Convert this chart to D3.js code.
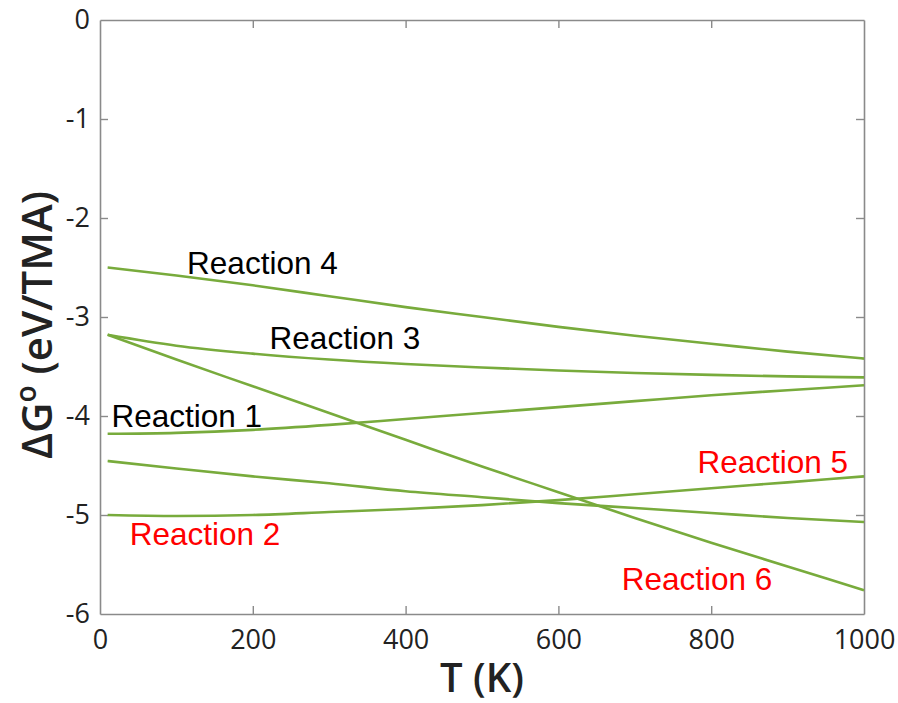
<!DOCTYPE html>
<html>
<head>
<meta charset="utf-8">
<script src="https://cdn.jsdelivr.net/npm/d3@7/dist/d3.min.js"></script>
<style>
  html, body { margin: 0; padding: 0; background: #fff; }
  svg { display: block; }
</style>
</head>
<body>
<svg id="chart" width="898" height="703"></svg>
<script>
// Temperature grid (K)
const temperatures = [10, 100, 200, 300, 400, 500, 600, 700, 800, 900, 1000];

// Standard Gibbs free energy change per TMA (eV) for each reaction
const reaction1 = [-4.18, -4.17, -4.14, -4.09, -4.03, -3.97, -3.91, -3.85, -3.79, -3.74, -3.69];
const reaction2 = [-4.455, -4.53, -4.61, -4.68, -4.76, -4.82, -4.88, -4.93, -4.98, -5.03, -5.07];
const reaction3 = [-3.18, -3.29, -3.37, -3.43, -3.475, -3.51, -3.54, -3.565, -3.585, -3.60, -3.61];
const reaction4 = [-2.50, -2.58, -2.68, -2.79, -2.90, -3.00, -3.10, -3.19, -3.27, -3.35, -3.42];
const reaction5 = [-5.00, -5.01, -5.00, -4.97, -4.94, -4.90, -4.85, -4.79, -4.73, -4.67, -4.61];
const reaction6 = [-3.18, -3.43, -3.70, -3.97, -4.24, -4.51, -4.77, -5.03, -5.28, -5.52, -5.76];

const seriesList = [reaction1, reaction2, reaction3, reaction4, reaction5, reaction6];

// Axis ticks
const xTicks = [0, 200, 400, 600, 800, 1000];
const yTicks = [0, -1, -2, -3, -4, -5, -6];

// Curve labels
const labelNames = ["Reaction 4", "Reaction 3", "Reaction 1", "Reaction 5", "Reaction 2", "Reaction 6"];
const labelColors = ["#000000", "#000000", "#000000", "#ff0000", "#ff0000", "#ff0000"];

(function draw() {
  const svg = d3.select("#chart");
  const margin = { left: 100, top: 20, right: 34, bottom: 89 };
  const W = 898, H = 703;
  const x = d3.scaleLinear().domain([0, 1000]).range([margin.left, W - margin.right]);
  const y = d3.scaleLinear().domain([-6, 0]).range([H - margin.bottom, margin.top]);

  const axisColor = "#8a8a8a";
  const tickFont = "'Open Sans', 'DejaVu Sans', sans-serif";

  // Axes with inward ticks on all four sides
  const axBottom = svg.append("g").attr("transform", `translate(0,${y(-6)})`)
    .call(d3.axisBottom(x).tickValues(xTicks).tickSizeInner(-8).tickSizeOuter(0).tickPadding(16)
      .tickFormat(d3.format("d")));
  const axTop = svg.append("g").attr("transform", `translate(0,${y(0)})`)
    .call(d3.axisTop(x).tickValues(xTicks).tickSizeInner(-8).tickSizeOuter(0).tickFormat(""));
  const axLeft = svg.append("g").attr("transform", `translate(${x(0)},0)`)
    .call(d3.axisLeft(y).tickValues(yTicks).tickSizeInner(-8).tickSizeOuter(0).tickPadding(10)
      .tickFormat(d => d === 0 ? "0" : "-" + Math.abs(d)));
  const axRight = svg.append("g").attr("transform", `translate(${x(1000)},0)`)
    .call(d3.axisRight(y).tickValues(yTicks).tickSizeInner(-8).tickSizeOuter(0).tickFormat(""));

  [axBottom, axTop, axLeft, axRight].forEach(g => {
    g.select(".domain").attr("stroke", axisColor).attr("stroke-width", 1.6);
    g.selectAll(".tick line").attr("stroke", axisColor).attr("stroke-width", 1.4);
    g.selectAll(".tick text").attr("fill", "#222").style("font-family", tickFont).style("font-size", "27px");
  });
  // Ticks at the ends coincide with the frame; hide them
  axBottom.selectAll(".tick").filter(d => d === 0 || d === 1000).select("line").remove();
  axTop.selectAll(".tick").filter(d => d === 0 || d === 1000).select("line").remove();
  axLeft.selectAll(".tick").filter(d => d === 0 || d === -6).select("line").remove();
  axRight.selectAll(".tick").filter(d => d === 0 || d === -6).select("line").remove();

  // Curves
  const line = d3.line()
    .x((d, i) => x(temperatures[i]))
    .y(d => y(d))
    .curve(d3.curveMonotoneX);

  svg.append("g").selectAll("path").data(seriesList).join("path")
    .attr("d", line)
    .attr("fill", "none")
    .attr("stroke", "#78ab3c")
    .attr("stroke-width", 2.6);

  // Labels next to their curves (anchored in data space)
  const labelAnchors = [
    [114, -2.565], [222, -3.32], [15, -4.11],
    [782, -4.58], [39, -5.30], [683, -5.76]
  ];
  svg.append("g").selectAll("text").data(labelNames).join("text")
    .attr("x", (d, i) => x(labelAnchors[i][0]))
    .attr("y", (d, i) => y(labelAnchors[i][1]))
    .attr("fill", (d, i) => labelColors[i])
    .style("font-family", "'Liberation Sans', Arial, sans-serif")
    .style("font-size", "31.5px")
    .text(d => d);

  // Axis titles
  svg.append("text")
    .attr("x", (x(0) + x(1000)) / 2)
    .attr("y", 692)
    .attr("text-anchor", "middle")
    .attr("fill", "#222")
    .style("font-family", tickFont)
    .style("font-size", "40px")
    .style("font-weight", 600)
    .text("T (K)");

  const yTitle = svg.append("text")
    .attr("transform", `translate(52,325) rotate(-90)`)
    .attr("text-anchor", "middle")
    .attr("fill", "#222")
    .style("font-family", tickFont)
    .style("font-size", "42px")
    .style("font-weight", 600);
  yTitle.append("tspan").text("\u0394G");
  yTitle.append("tspan").attr("dy", -16).style("font-size", "28px").text("o");
  yTitle.append("tspan").attr("dy", 16).text(" (eV/TMA)");
})();
</script>
</body>
</html>
